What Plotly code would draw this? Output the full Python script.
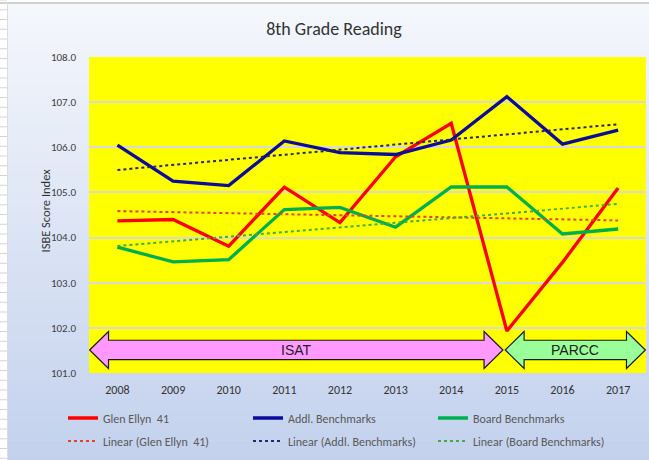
import numpy as np
import plotly.graph_objects as go

years = ["2008", "2009", "2010", "2011", "2012", "2013", "2014", "2015", "2016", "2017"]
glen_ellyn = [104.37, 104.40, 103.81, 105.12, 104.33, 105.79, 106.53, 101.93, 103.45, 105.10]
addl_bench = [106.05, 105.25, 105.15, 106.14, 105.88, 105.84, 106.16, 107.12, 106.07, 106.38]
board_bench = [103.79, 103.46, 103.51, 104.62, 104.67, 104.23, 105.12, 105.12, 104.08, 104.19]
y_ticks = [101, 102, 103, 104, 105, 106, 107, 108]
eras = ["ISAT", "PARCC"]

W, H = 649, 460
ML, MR, MT, MB = 89, 3, 57, 87
PW, PH = W - ML - MR, H - MT - MB
FONT = "Carlito, Lato, sans-serif"


def px(x):
    return (x - ML) / PW


def py(y):
    return (H - MB - y) / PH


fig = go.Figure()

series = [
    ("Glen Ellyn  41", glen_ellyn, "#FF0000"),
    ("Addl. Benchmarks", addl_bench, "#0B0B9C"),
    ("Board Benchmarks", board_bench, "#00B050"),
]
for name, vals, col in series:
    fig.add_trace(go.Scatter(x=years, y=vals, mode="lines", name=name, legend="legend",
                             line=dict(color=col, width=3.3)))

trend_cols = ["#E8402A", "#26266A", "#3FAE3A"]
idx = np.arange(len(years))
for (name, vals, col), tcol in zip(series, trend_cols):
    k, b = np.polyfit(idx, vals, 1)
    fig.add_trace(go.Scatter(x=years, y=k * idx + b, mode="lines", legend="legend2",
                             name="Linear (%s)" % name,
                             line=dict(color=tcol, width=2, dash="dot")))

shapes = []
# white sheet + cell lines on the left
yy = 0.0
while yy < H:
    shapes.append(dict(type="line", xref="paper", yref="paper", x0=px(0), x1=px(7),
                       y0=py(yy), y1=py(yy), line=dict(color="#D4D4D4", width=1), layer="below"))
    yy += 9.75
# gradient chart background
top_c = np.array([245, 247, 252])
bot_c = np.array([195, 209, 237])
n = 46
y_start, y_end = 4, H
for i in range(n):
    t = (i + 0.5) / n
    c = (top_c * (1 - t) + bot_c * t).round().astype(int)
    ya = y_start + (y_end - y_start) * i / n
    yb = y_start + (y_end - y_start) * (i + 1) / n + 0.6
    shapes.append(dict(type="rect", xref="paper", yref="paper", x0=px(7), x1=px(W + 2),
                       y0=py(ya), y1=py(yb), fillcolor="rgb(%d,%d,%d)" % tuple(c),
                       line=dict(width=0), layer="below"))
shapes.append(dict(type="line", xref="paper", yref="paper", x0=px(0), x1=px(W),
                   y0=py(3), y1=py(3), line=dict(color="#D0D0D0", width=2), layer="below"))
shapes.append(dict(type="line", xref="paper", yref="paper", x0=px(7.5), x1=px(7.5),
                   y0=py(3), y1=py(H), line=dict(color="#D8DCE4", width=1), layer="below"))
# yellow plot area
shapes.append(dict(type="rect", xref="x domain", yref="y domain", x0=0, x1=1, y0=0, y1=1,
                   fillcolor="#FFFF00", line=dict(width=0), layer="below"))


def double_arrow(x0, x1, yc, head_len, head_h, shaft_h):
    pts = [(x0, yc), (x0 + head_len, yc + head_h), (x0 + head_len, yc + shaft_h),
           (x1 - head_len, yc + shaft_h), (x1 - head_len, yc + head_h), (x1, yc),
           (x1 - head_len, yc - head_h), (x1 - head_len, yc - shaft_h),
           (x0 + head_len, yc - shaft_h), (x0 + head_len, yc - head_h)]
    return "M " + " L ".join("%.4f,%.4f" % p for p in pts) + " Z"


yc = 101.51
arrow_specs = [(-0.5, 6.93, "#FF99FF"), (6.97, 9.49, "#99FF99")]
for (a0, a1, fillc), label in zip(arrow_specs, eras):
    shapes.append(dict(type="path", xref="x", yref="y",
                       path=double_arrow(a0, a1, yc, 0.34, 0.41, 0.215),
                       fillcolor=fillc, line=dict(color="#1A1A1A", width=1.2)))

annotations = []
for (a0, a1, fillc), label in zip(arrow_specs, eras):
    annotations.append(dict(x=(a0 + a1) / 2, y=yc, xref="x", yref="y", text=label,
                            showarrow=False, font=dict(family="Liberation Sans, Arial", size=14,
                                                       color="#222222")))
annotations.append(dict(x=px(35), y=py(211), xref="paper", yref="paper",
                        text="ISBE Score Index", textangle=-90, showarrow=False,
                        font=dict(family=FONT, size=12.5, color="#333333")))

legend_common = dict(orientation="h", xanchor="left", yanchor="middle",
                     entrywidth=140, entrywidthmode="pixels", bgcolor="rgba(0,0,0,0)",
                     font=dict(family=FONT, size=12, color="#595959"), traceorder="normal")

fig.update_layout(
    width=W, height=H,
    margin=dict(l=ML, r=MR, t=MT, b=MB),
    paper_bgcolor="white",
    plot_bgcolor="rgba(0,0,0,0)",
    title=dict(text="8th Grade Reading", x=334 / W, xanchor="center", y=1 - 29 / H,
               yanchor="middle", font=dict(family=FONT, size=18, color="#333333")),
    font=dict(family=FONT, size=11, color="#404040"),
    showlegend=True,
    legend=dict(x=px(63), y=py(418), **legend_common),
    legend2=dict(x=px(63), y=py(441), **legend_common),
    shapes=shapes,
    annotations=annotations,
    xaxis=dict(type="category", showgrid=False, zeroline=False, showline=False,
               tickfont=dict(family=FONT, size=12, color="#333333"), ticks="",
               ticklabelstandoff=8, fixedrange=True),
    yaxis=dict(range=[101, 108], tickvals=y_ticks, tickformat=".1f", showgrid=True,
               gridcolor="#D9D9D9", gridwidth=1.6, zeroline=False, showline=False,
               tickfont=dict(family=FONT, size=11, color="#404040"), ticks="",
               ticklabelstandoff=12, fixedrange=True),
)

fig.write_html("out.html", config={"displayModeBar": False},
               post_script="document.body.style.margin='0';document.body.style.padding='0';"
                           "document.body.style.overflow='hidden';")
